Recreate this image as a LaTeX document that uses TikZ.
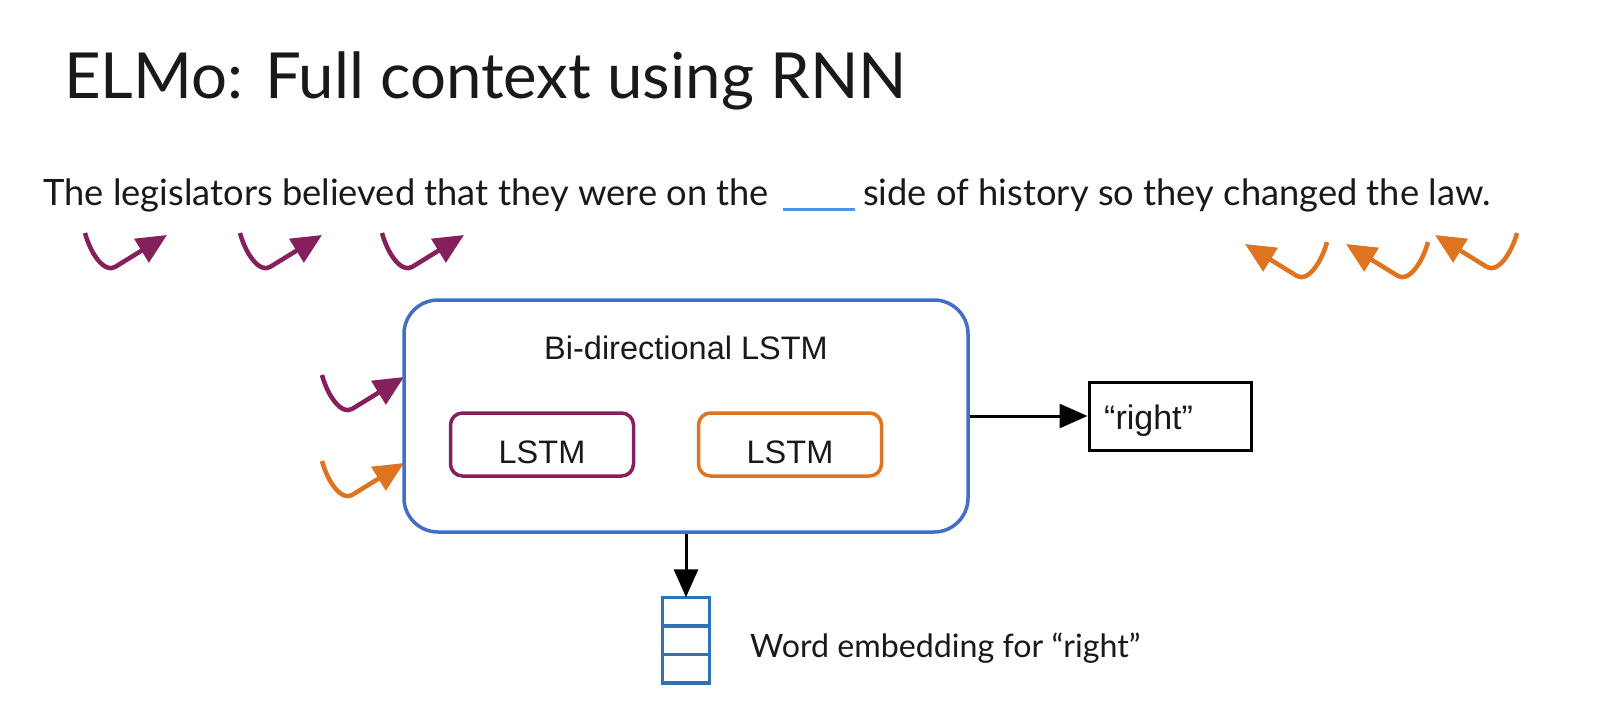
\documentclass[tikz,border=0pt]{standalone}
\usepackage{fontspec}
\setmainfont{Lato}
\newfontfamily\arialf{Liberation Sans}
\usetikzlibrary{arrows.meta,positioning}
\definecolor{purp}{RGB}{133,32,92}
\definecolor{orng}{RGB}{222,116,32}
\definecolor{boxblue}{RGB}{66,110,200}
\definecolor{stackblue}{RGB}{45,115,185}
\definecolor{blankblue}{RGB}{80,150,220}
\definecolor{ink}{RGB}{25,25,25}
\begin{document}
\begin{tikzpicture}[x=1pt,y=-1pt,
  curlyR/.pic={\draw[line width=4.5,-{Triangle[length=30pt,width=27pt]}]
      (0,0) .. controls (6,22) and (19.7,40) .. (30,34) -- (82,2);},
  curlyL/.pic={\draw[line width=4.5,-{Triangle[length=30pt,width=27pt]}]
      (0,0) .. controls (-6,22) and (-19.7,40) .. (-30,34) -- (-82,2);},
  txt/.style={inner sep=0,text=ink},
  arialtxt/.style={inner sep=0,text=ink,font=\arialf\fontsize{32.5}{38}\selectfont},
  lstmbox/.style={line width=3.5,rounded corners=12,minimum width=183,minimum height=63,
      inner sep=0,text height=37,text depth=0,text=ink,font=\arialf\fontsize{32.5}{38}\selectfont},
  cell/.style={draw=stackblue,line width=3.5,minimum width=47,minimum height=28.5,inner sep=0,outer sep=0},
  conn/.style={draw=black,line width=3,-{Triangle[length=28pt,width=24pt]}}]
\useasboundingbox (0,0) rectangle (1610,726);
\fill[white] (0,0) rectangle (1610,726);

% title
\node[txt,anchor=base west,font=\fontsize{63.5}{76}\selectfont] (title) at (64,98) {ELMo: Full context using RNN};

% sentence
\node[txt,anchor=base west,font=\fontsize{36.3}{43}\selectfont] (sentL) at (43,205) {The legislators believed that they were on the};
\node[fill=blankblue,minimum width=72,minimum height=3,inner sep=0] (blank) at (819,209) {};
\node[txt,anchor=base west,font=\fontsize{36.3}{43}\selectfont] (sentR) at (863,205) {side of history so they changed the law.};

% curly arrows
\coordinate (p1) at (85,233);
\coordinate (p2) at (240,233);
\coordinate (p3) at (382,233);
\coordinate (o1) at (1327,242);
\coordinate (o2) at (1428,242);
\coordinate (o3) at (1517,233);
\coordinate (pl) at (322,375);
\coordinate (ol) at (322,461);
\pic[color=purp] at (p1) {curlyR};
\pic[color=purp] at (p2) {curlyR};
\pic[color=purp] at (p3) {curlyR};
\pic[color=orng] at (o1) {curlyL};
\pic[color=orng] at (o2) {curlyL};
\pic[color=orng] at (o3) {curlyL};
\pic[color=purp] at (pl) {curlyR};
\pic[color=orng] at (ol) {curlyR};

% main box
\node[draw=boxblue,line width=3.5,rounded corners=34,minimum width=564,minimum height=232,inner sep=0] (bilstm) at (686,416) {};
\node[arialtxt,anchor=base] (bilabel) at (686,359) {Bi-directional LSTM};
\node[lstmbox,draw=purp] (lstmf) at (542,444.5) {LSTM};
\node[lstmbox,draw=orng] (lstmb) at (790,444.5) {LSTM};

% output word
\node[draw=black,line width=3,minimum width=162,minimum height=68,inner sep=0] (rightbox) at (1170,416) {};
\node[arialtxt,anchor=base west,font=\arialf\fontsize{34}{40}\selectfont] (rightlabel) at (1104,429) {“right”};
\draw[conn] (bilstm.east) -- (rightbox.west);

% embedding stack
\node[cell] (cell1) at (686,611.5) {};
\node[cell,below=0pt of cell1] (cell2) {};
\node[cell,below=0pt of cell2] (cell3) {};
\draw[conn] (bilstm.south) -- (cell1.north);
\node[txt,anchor=base west,font=\fontsize{32.2}{38}\selectfont] (wlabel) at (750,657) {Word embedding for “right”};
\end{tikzpicture}
\end{document}
